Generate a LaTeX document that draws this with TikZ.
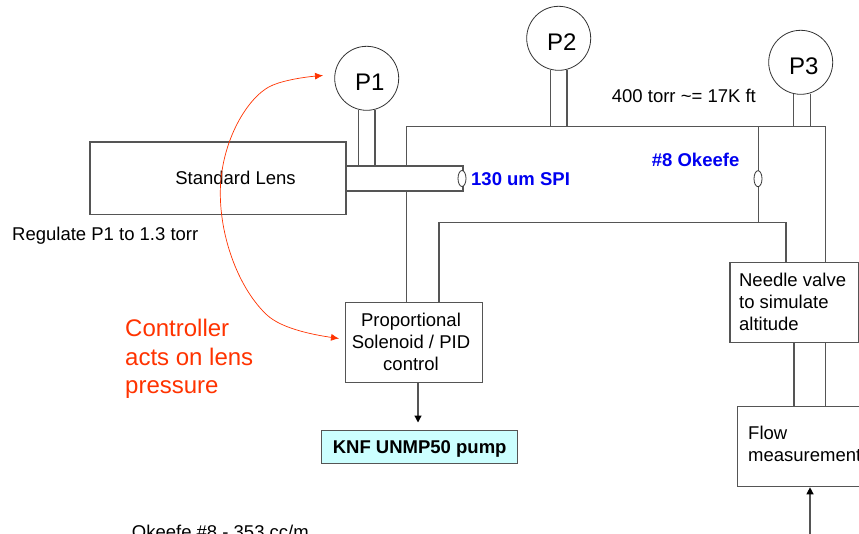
\documentclass[tikz,border=0pt]{standalone}
\usepackage{fontspec}
\setmainfont{Liberation Sans}
\usetikzlibrary{shapes.geometric,arrows.meta}
\definecolor{pipegray}{HTML}{555555}
\definecolor{ctrlred}{HTML}{FF3300}
\definecolor{spiblue}{HTML}{0000F0}
\definecolor{pumpcyan}{HTML}{CCFFFF}
\tikzset{
    txt/.style={font=\fontsize{18.5}{22}\selectfont, inner sep=0pt},
    box/.style={draw=pipegray, line width=1.2pt, rectangle, txt, align=center},
    gauge/.style={draw=black!80, line width=0.8pt, circle, fill=white, minimum size=64pt, inner sep=0pt,
        label={[shift={(3pt,-4pt)}, font=\fontsize{24}{28}\selectfont]center:#1}},
    orifice/.style={draw=black!80, line width=0.8pt, ellipse, fill=white, minimum width=8pt, minimum height=16pt, inner sep=0pt},
    pipe/.style={draw=pipegray, line width=1.2pt},
    flowline/.style={pipe, -{Triangle[length=7pt,width=7pt,color=black]}},
    ctrl/.style={draw=ctrlred, line width=0.7pt, -{Latex[length=8pt,width=7pt]}}
}
\begin{document}
\begin{tikzpicture}[x=1pt, y=-1pt]
    \clip (0,0) rectangle (859,533);
    \fill[white] (0,0) rectangle (859,533);

    \coordinate (tubeTL) at (346,166);
    \coordinate (tubeTR) at (463,166);
    \coordinate (tubeBL) at (346,191);
    \coordinate (tubeBR) at (463,191);
    \coordinate (upperA) at (406.7,166);
    \coordinate (upperB) at (406.7,126.7);
    \coordinate (upperC) at (825.8,126.7);
    \coordinate (upperD) at (825.8,262.3);
    \coordinate (lowerA) at (406.7,191);
    \coordinate (lowerB) at (406.7,302.3);
    \coordinate (returnA) at (439,302.3);
    \coordinate (returnB) at (439,222.3);
    \coordinate (returnC) at (786,222.3);
    \coordinate (returnD) at (786,262.3);
    \coordinate (bypassA) at (758.5,126.7);
    \coordinate (bypassB) at (758.5,222.3);
    \coordinate (flowIn) at (810,540);

    % gauges
    \node[gauge=P1] (p1) at (366.7,78.3) {};
    \node[gauge=P2] (p2) at (558.7,38.3) {};
    \node[gauge=P3] (p3) at (800.7,62.3) {};

    % boxes
    \node[box, minimum width=256pt, minimum height=72.5pt, label={[txt, xshift=17.5pt]center:Standard Lens}] (lens) at (218,178.2) {};
    \node[box, minimum width=136.6pt, minimum height=80pt, label={[txt, xshift=-3pt, align=center]center:Proportional\\Solenoid / PID\\control}] (solenoid) at (414,342.3) {};
    \node[box, minimum width=128.3pt, minimum height=80pt, label={[txt, align=left, xshift=-1.6pt]center:Needle valve\\to simulate\\altitude}] (needle) at (794.2,302.3) {};
    \node[box, minimum width=160pt, minimum height=80.4pt] (flow) at (817.7,446.5) {};
    \node[box, fill=pumpcyan, minimum width=196pt, minimum height=33pt, text depth=0pt, font=\fontsize{18.5}{22}\selectfont\bfseries] (pump) at (419.7,447.2) {KNF UNMP50 pump};

    % pipes
    \draw[pipe] (tubeTL) -- (tubeTR) -- (tubeBR) -- (tubeBL);
    \draw[pipe] (upperA) -- (upperB) -- (upperC) -- (upperD);
    \draw[pipe] (lowerA) -- (lowerB);
    \draw[pipe] (returnA) -- (returnB) -- (returnC) -- (returnD);
    \draw[pipe] (bypassA) -- (bypassB);

    % gauge stems
    \draw[pipe] (358.5,109.5) -- (358.5,166);
    \draw[pipe] (375,109.5) -- (375,166);
    \draw[pipe] (550.7,69.5) -- (550.7,126.7);
    \draw[pipe] (567,69.5) -- (567,126.7);
    \draw[pipe] (793.7,93.5) -- (793.7,126.7);
    \draw[pipe] (810.3,93.5) -- (810.3,126.7);

    % orifices
    \node[orifice] (spi) at (462,178.5) {};
    \node[orifice] (okeefe) at (758,178.7) {};

    % needle valve to flow
    \draw[pipe] (794,342.3) -- (794,406.3);
    \draw[pipe] (825.8,342.3) -- (825.8,406.3);
    \draw[flowline] (418,382.3) -- (418,422.5);
    \draw[flowline] (flowIn) -- (flowIn |- flow.south);

    % controller
    \coordinate (ctrlMid) at (220.3,193);
    \draw[ctrl] (ctrlMid) .. controls (220.3,142) and (248,95) .. (273,85) .. controls (285,80) and (305,77) .. (323,75.5);
    \draw[ctrl] (ctrlMid) .. controls (220.3,240) and (240,290) .. (267,315) .. controls (282,329) and (315,335) .. (339,338.5);

    % labels
    \node[txt, anchor=west] (regulate) at (12,236) {Regulate P1 to 1.3 torr};
    \node[txt, anchor=west] (altnote) at (611.7,96) {400 torr \char`\~= 17K ft};
    \node[txt, anchor=west, text=spiblue, font=\fontsize{18.5}{22}\selectfont\bfseries] (spilabel) at (471,179) {130 um SPI};
    \node[txt, anchor=west, text=spiblue, font=\fontsize{18.5}{22}\selectfont\bfseries] (okeefelabel) at (651.7,160) {\#8 Okeefe};
    \node[txt, anchor=west, align=left, text=ctrlred, font=\fontsize{24}{28.5}\selectfont] (ctrllabel) at (125,359) {Controller\\acts on lens\\pressure};
    \node[txt, anchor=west, align=left] (flowlabel) at (748,444) {Flow\\measurement};
    \node[txt, anchor=base west] (rate) at (131.7,538) {Okeefe \#8 - 353 cc/m};
\end{tikzpicture}
\end{document}
